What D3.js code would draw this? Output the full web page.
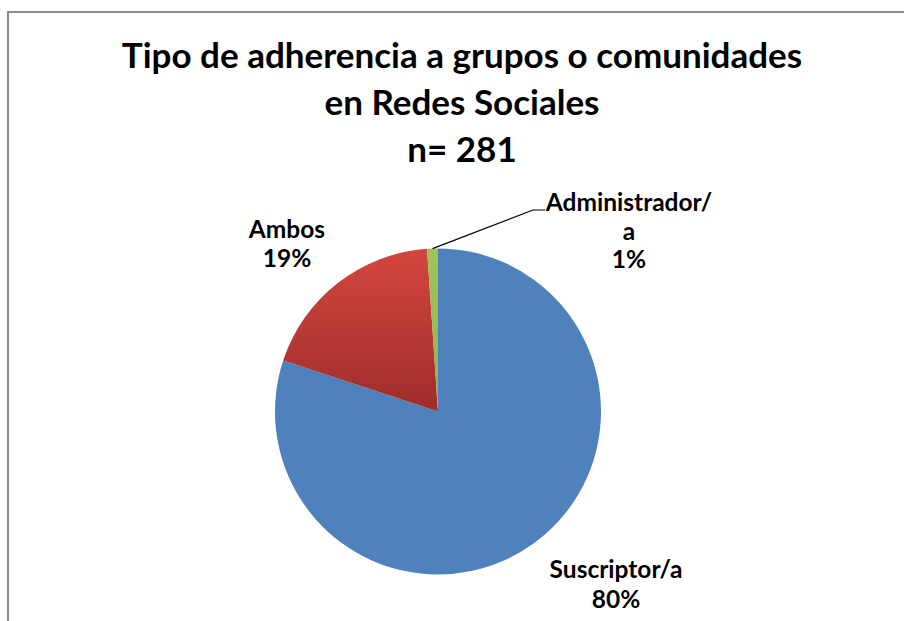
<!DOCTYPE html>
<html>
<head>
<meta charset="utf-8">
<script src="https://cdn.jsdelivr.net/npm/d3@7"></script>
<style>
  html, body { margin: 0; padding: 0; background: #fff; }
</style>
</head>
<body>
<div id="chart"></div>
<script>
// data
const categories = ["Suscriptor/a", "Ambos", "Administrador/a"]
const counts = [225, 53, 3]
const titleLines = ["Tipo de adherencia a grupos o comunidades", "en Redes Sociales", "n= 281"]

const width = 904
const height = 621
const cx = 438, cy = 411.5, radius = 163
const fontFamily = "Lato, 'Open Sans', sans-serif"

const svg = d3.select("#chart")
    .append("svg")
    .attr("width", width)
    .attr("height", height)

// chart frame (runs off the right and bottom of the picture)
svg.append("rect")
    .attr("x", 8)
    .attr("y", 12)
    .attr("width", 1000)
    .attr("height", 1000)
    .attr("fill", "#fff")
    .attr("stroke", "#8c8c8c")
    .attr("stroke-width", 2)

// slice gradients, in the pie group's coordinates
const defs = svg.append("defs")
const gradients = [
    { id: "g-blue", top: "#4f81bd", bottom: "#4f81bd" },
    { id: "g-red", top: "#d3463f", bottom: "#9c2b2a" },
    { id: "g-green", top: "#9fc45a", bottom: "#8db24c" }
]
gradients.forEach(gr => {
    const lg = defs.append("linearGradient")
        .attr("id", gr.id)
        .attr("gradientUnits", "userSpaceOnUse")
        .attr("x1", 0).attr("x2", 0)
        .attr("y1", -radius).attr("y2", radius * 0.05)
    lg.append("stop").attr("offset", "0").attr("stop-color", gr.top)
    lg.append("stop").attr("offset", "1").attr("stop-color", gr.bottom)
})

// title
svg.append("g")
    .selectAll("text")
    .data(titleLines)
    .enter()
    .append("text")
    .attr("x", 462)
    .attr("y", (d, i) => 68 + i * 47)
    .attr("text-anchor", "middle")
    .attr("font-family", fontFamily)
    .attr("font-weight", "700")
    .attr("font-size", 35)
    .attr("fill", "#000")
    .text(d => d)

// pie
const total = d3.sum(counts)
const pie = d3.pie().sort(null).value(d => d)
const arc = d3.arc().innerRadius(0).outerRadius(radius)
const arcs = pie(counts)

svg.append("g")
    .attr("transform", "translate(" + cx + "," + cy + ")")
    .selectAll("path")
    .data(arcs)
    .enter()
    .append("path")
    .attr("d", arc)
    .attr("fill", (d, i) => "url(#" + gradients[i].id + ")")

// labels
const labelLayout = [
    { x: 616, y: 578, gap: 30, lines: ["Suscriptor/a"] },
    { x: 287, y: 238, gap: 29, lines: ["Ambos"] },
    { x: 629, y: 211, gap: 28.5, lines: ["Administrador/", "a"] }
]
const pct = d => Math.round(d / total * 100) + "%"

labelLayout.forEach((l, i) => {
    const t = svg.append("text")
        .attr("text-anchor", "middle")
        .attr("font-family", fontFamily)
        .attr("font-weight", "700")
        .attr("font-size", 24.5)
        .attr("fill", "#000")
    l.lines.concat([pct(counts[i])]).forEach((s, j) => {
        t.append("tspan")
            .attr("x", l.x)
            .attr("y", l.y + j * l.gap)
            .text(s)
    })
})

// leader line for the small slice
const mid = (arcs[2].startAngle + arcs[2].endAngle) / 2
const edge = [cx + Math.sin(mid) * radius, cy - Math.cos(mid) * radius]
svg.append("polyline")
    .attr("points", [edge, [533, 210], [545, 210]].map(p => p.join(",")).join(" "))
    .attr("fill", "none")
    .attr("stroke", "#000")
    .attr("stroke-width", 1.2)
</script>
</body>
</html>
